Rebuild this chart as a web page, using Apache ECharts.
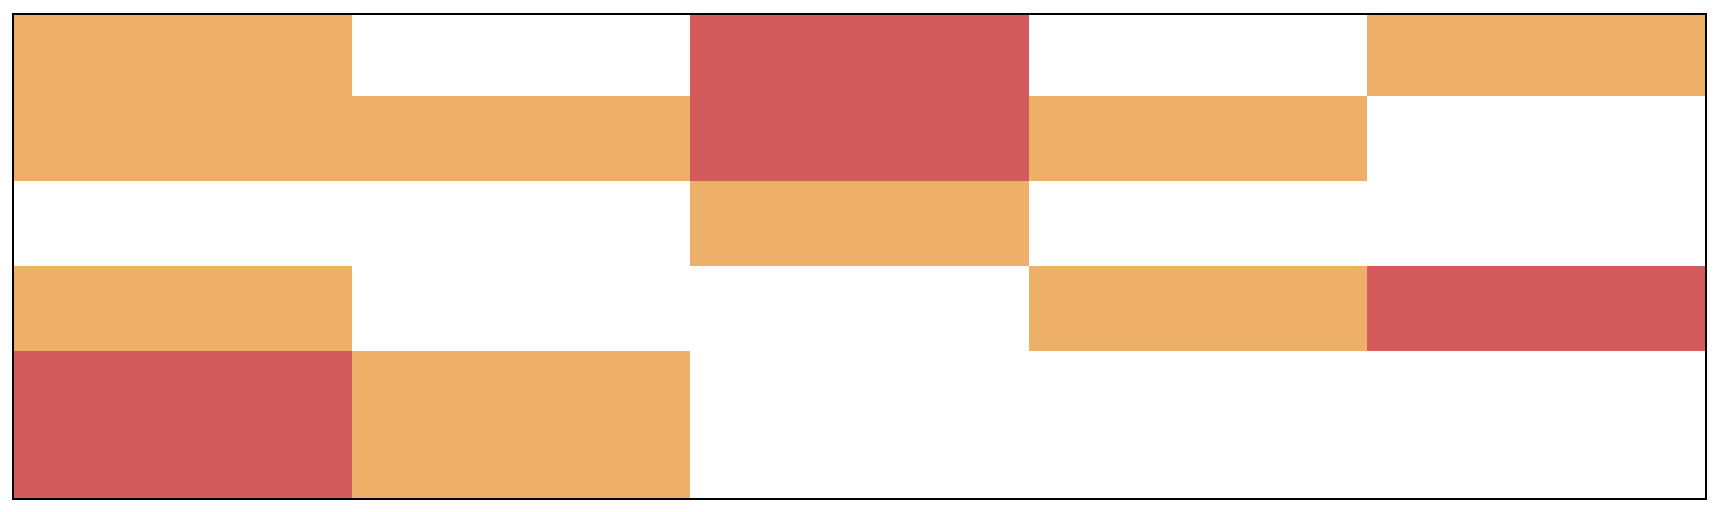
<!DOCTYPE html>
<html>
<head>
<meta charset="utf-8">
<script src="https://cdn.jsdelivr.net/npm/echarts@6/dist/echarts.min.js"></script>
<style>
html,body{margin:0;padding:0;background:#fff;}
#chart{width:1721px;height:512px;}
</style>
</head>
<body>
<div id="chart"></div>
<script>
// Columns (left to right)
const columns = ['C1', 'C2', 'C3', 'C4', 'C5'];
// Row band edges on the value y-axis, from bottom to top
const rowEdges = [0, 1.74, 2.74, 3.74, 4.74, 5.7];
// Cell levels per row, listed top row first (0 = empty, 1 = medium, 2 = high)
const row1 = [1, 0, 2, 0, 1];
const row2 = [1, 1, 2, 1, 0];
const row3 = [0, 0, 1, 0, 0];
const row4 = [1, 0, 0, 1, 2];
const row5 = [2, 1, 0, 0, 0];
const levelColors = ['#ffffff', '#eeb068', '#d45b5b'];

const rowsTopFirst = [row1, row2, row3, row4, row5];
const cells = [];
rowsTopFirst.forEach((row, i) => {
  const rowIdx = rowsTopFirst.length - 1 - i; // bottom-based index
  row.forEach((v, c) => {
    if (v > 0) cells.push([c, rowIdx, v]);
  });
});

const chart = echarts.init(document.getElementById('chart'), null, {renderer: 'canvas'});
chart.setOption({
  animation: false,
  backgroundColor: '#ffffff',
  grid: {left: 14, top: 15, right: 16, bottom: 14, show: false},
  xAxis: {type: 'value', min: 0, max: columns.length, show: false},
  yAxis: {type: 'value', min: rowEdges[0], max: rowEdges[rowEdges.length - 1], show: false},
  series: [{
    type: 'custom',
    data: cells,
    renderItem: function (params, api) {
      const c = api.value(0), r = api.value(1), v = api.value(2);
      const p0 = api.coord([c, rowEdges[r + 1]]);
      const p1 = api.coord([c + 1, rowEdges[r]]);
      const x0 = Math.round(p0[0]), y0 = Math.round(p0[1]);
      const x1 = Math.round(p1[0]), y1 = Math.round(p1[1]);
      return {
        type: 'rect',
        shape: {x: x0, y: y0, width: x1 - x0, height: y1 - y0},
        style: {fill: levelColors[v], stroke: null}
      };
    }
  }],
  graphic: [{
    type: 'rect',
    z: 100,
    shape: {x: 13, y: 14, width: 1693, height: 485},
    style: {fill: null, stroke: '#000000', lineWidth: 2}
  }]
});
</script>
</body>
</html>
